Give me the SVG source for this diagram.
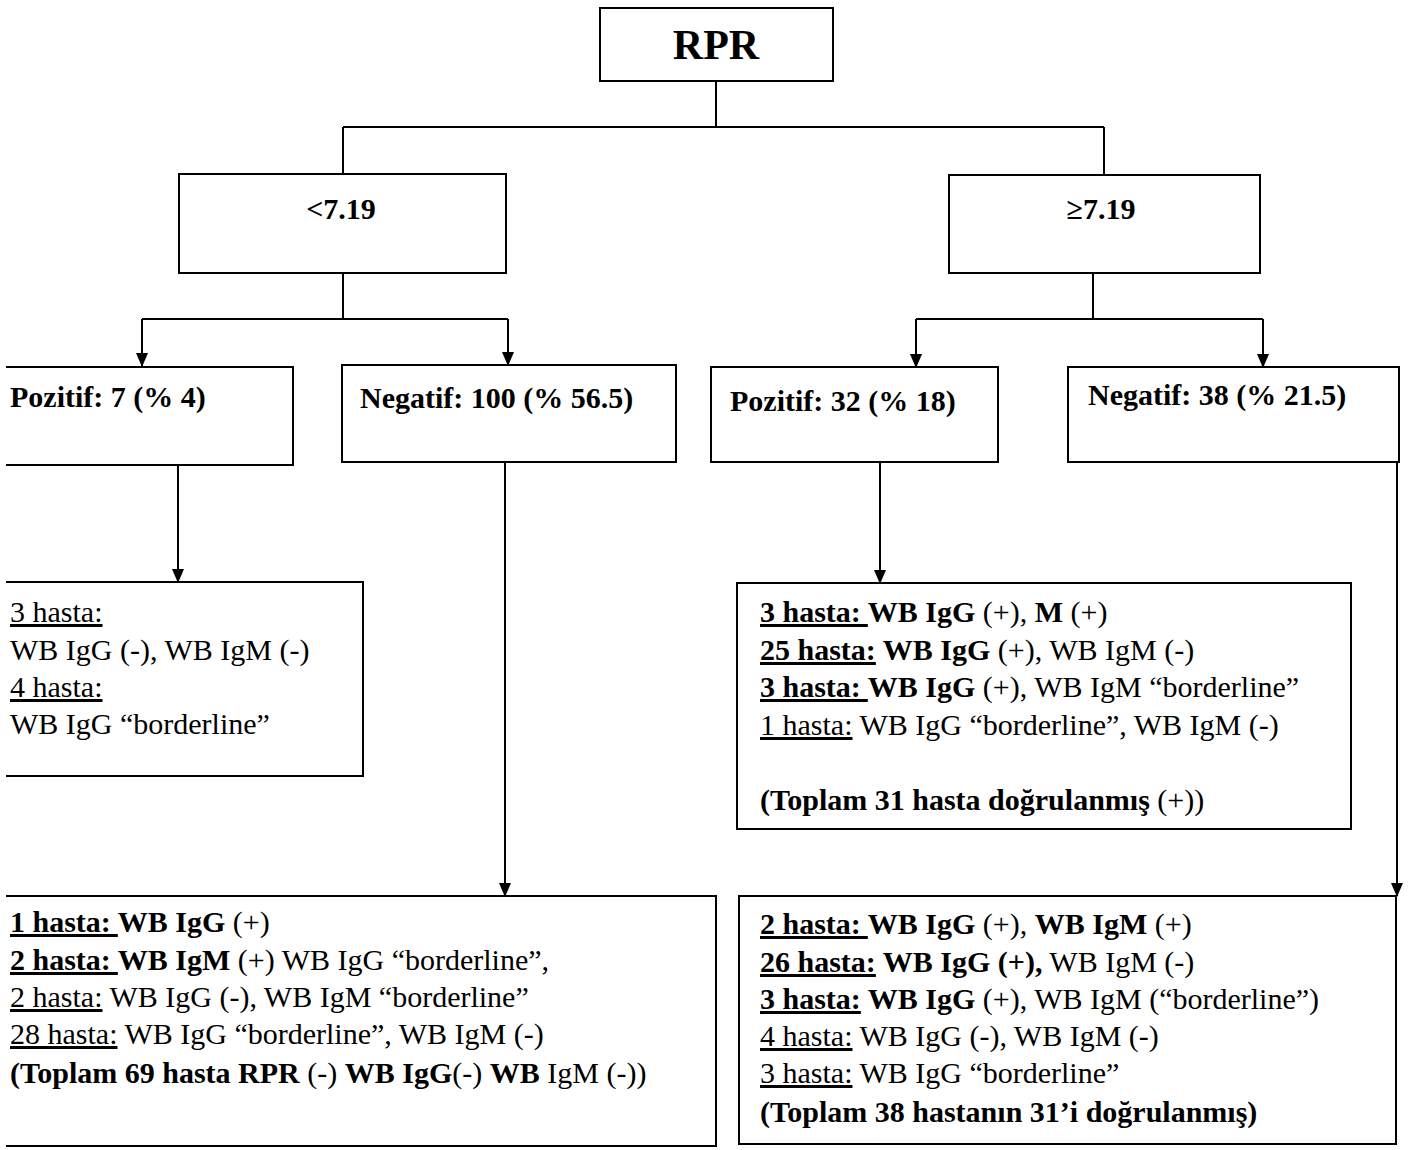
<svg xmlns="http://www.w3.org/2000/svg" width="1411" height="1150" viewBox="0 0 1411 1150">
<style>
.box{fill:none;stroke:#000;stroke-width:2}
.ln{fill:none;stroke:#000;stroke-width:2}
.t{font-family:"Liberation Serif","Times New Roman",serif;font-size:30px;fill:#000}
.b{font-weight:bold}
.u{text-decoration:underline}
</style>
<defs>
<marker id="ah" markerUnits="userSpaceOnUse" markerWidth="12" markerHeight="14" refX="6" refY="13" orient="0" viewBox="0 0 12 14">
<path d="M0,0 L12,0 L6,14 z" fill="#000"/>
</marker>
</defs>
<rect width="1411" height="1150" fill="#fff"/>
<g id="connectors">
<path class="ln" d="M716,81 V127 M343,127 H1104 M343,127 V174 M1104,127 V175"/>
<path class="ln" d="M343,273 V319 M142,319 H508 M1093,273 V319 M916,319 H1263"/>
<path class="ln" d="M142,319 V366" marker-end="url(#ah)"/>
<path class="ln" d="M508,319 V365" marker-end="url(#ah)"/>
<path class="ln" d="M916,319 V367" marker-end="url(#ah)"/>
<path class="ln" d="M1263,319 V367" marker-end="url(#ah)"/>
<path class="ln" d="M178,465 V582" marker-end="url(#ah)"/>
<path class="ln" d="M505,462 V896" marker-end="url(#ah)"/>
<path class="ln" d="M880,462 V583" marker-end="url(#ah)"/>
<path class="ln" d="M1397,462 V896" marker-end="url(#ah)"/>
</g>
<g id="rpr">
<rect class="box" x="600" y="8" width="233" height="73"/>
<text class="t b" x="716" y="59" text-anchor="middle" style="font-size:42px">RPR</text>
</g>
<g id="low">
<rect class="box" x="179" y="174" width="327" height="99"/>
<text class="t b" x="341" y="219" text-anchor="middle">&lt;7.19</text>
</g>
<g id="high">
<rect class="box" x="949" y="175" width="311" height="98"/>
<text class="t b" x="1101" y="219" text-anchor="middle">≥7.19</text>
</g>
<g id="low-pos">
<path class="box" d="M6,367 H293 V465 H6"/>
<text class="t b" x="10" y="407">Pozitif: 7 (% 4)</text>
</g>
<g id="low-neg">
<rect class="box" x="342" y="365" width="334" height="97"/>
<text class="t b" x="360" y="408">Negatif: 100 (% 56.5)</text>
</g>
<g id="high-pos">
<rect class="box" x="711" y="367" width="287" height="95"/>
<text class="t b" x="730" y="411">Pozitif: 32 (% 18)</text>
</g>
<g id="high-neg">
<rect class="box" x="1068" y="367" width="331" height="95"/>
<text class="t b" x="1088" y="405">Negatif: 38 (% 21.5)</text>
</g>
<g id="low-pos-detail">
<path class="box" d="M6,582 H363 V776 H6"/>
<text class="t" x="10" y="622"><tspan class="u">3 hasta:</tspan></text>
<text class="t" x="10" y="660">WB IgG (-), WB IgM (-)</text>
<text class="t" x="10" y="697"><tspan class="u">4 hasta:</tspan></text>
<text class="t" x="10" y="734">WB IgG “borderline”</text>
</g>
<g id="high-pos-detail">
<rect class="box" x="737" y="583" width="614" height="246"/>
<text class="t" x="760" y="622"><tspan class="b u">3 hasta: </tspan><tspan class="b">WB IgG</tspan><tspan> (+), </tspan><tspan class="b">M</tspan><tspan> (+)</tspan></text>
<text class="t" x="760" y="660"><tspan class="b u">25 hasta:</tspan><tspan class="b"> WB IgG</tspan><tspan> (+), WB IgM (-)</tspan></text>
<text class="t" x="760" y="697"><tspan class="b u">3 hasta: </tspan><tspan class="b">WB IgG</tspan><tspan> (+), WB IgM “borderline”</tspan></text>
<text class="t" x="760" y="735"><tspan class="u">1 hasta:</tspan><tspan> WB IgG “borderline”, WB IgM (-)</tspan></text>
<text class="t" x="760" y="810"><tspan class="b">(Toplam 31 hasta doğrulanmış </tspan><tspan>(+))</tspan></text>
</g>
<g id="low-neg-detail">
<path class="box" d="M6,896 H716 V1146 H6"/>
<text class="t" x="10" y="932"><tspan class="b u">1 hasta: </tspan><tspan class="b">WB IgG</tspan><tspan> (+)</tspan></text>
<text class="t" x="10" y="970"><tspan class="b u">2 hasta: </tspan><tspan class="b">WB IgM</tspan><tspan> (+) WB IgG “borderline”,</tspan></text>
<text class="t" x="10" y="1007"><tspan class="u">2 hasta:</tspan><tspan> WB IgG (-), WB IgM “borderline”</tspan></text>
<text class="t" x="10" y="1044"><tspan class="u">28 hasta:</tspan><tspan> WB IgG “borderline”, WB IgM (-)</tspan></text>
<text class="t" x="10" y="1083"><tspan class="b">(Toplam 69 hasta RPR </tspan><tspan>(-) </tspan><tspan class="b">WB IgG</tspan><tspan>(-) </tspan><tspan class="b">WB</tspan><tspan> IgM (-))</tspan></text>
</g>
<g id="high-neg-detail">
<rect class="box" x="739" y="896" width="657" height="248"/>
<text class="t" x="760" y="934"><tspan class="b u">2 hasta: </tspan><tspan class="b">WB IgG</tspan><tspan> (+), </tspan><tspan class="b">WB IgM</tspan><tspan> (+)</tspan></text>
<text class="t" x="760" y="972"><tspan class="b u">26 hasta:</tspan><tspan class="b"> WB IgG (+),</tspan><tspan> WB IgM (-)</tspan></text>
<text class="t" x="760" y="1009"><tspan class="b u">3 hasta:</tspan><tspan class="b"> WB IgG</tspan><tspan> (+), WB IgM (“borderline”)</tspan></text>
<text class="t" x="760" y="1046"><tspan class="u">4 hasta:</tspan><tspan> WB IgG (-), WB IgM (-)</tspan></text>
<text class="t" x="760" y="1083"><tspan class="u">3 hasta:</tspan><tspan> WB IgG “borderline”</tspan></text>
<text class="t b" x="760" y="1122">(Toplam 38 hastanın 31’i doğrulanmış)</text>
</g>
</svg>
